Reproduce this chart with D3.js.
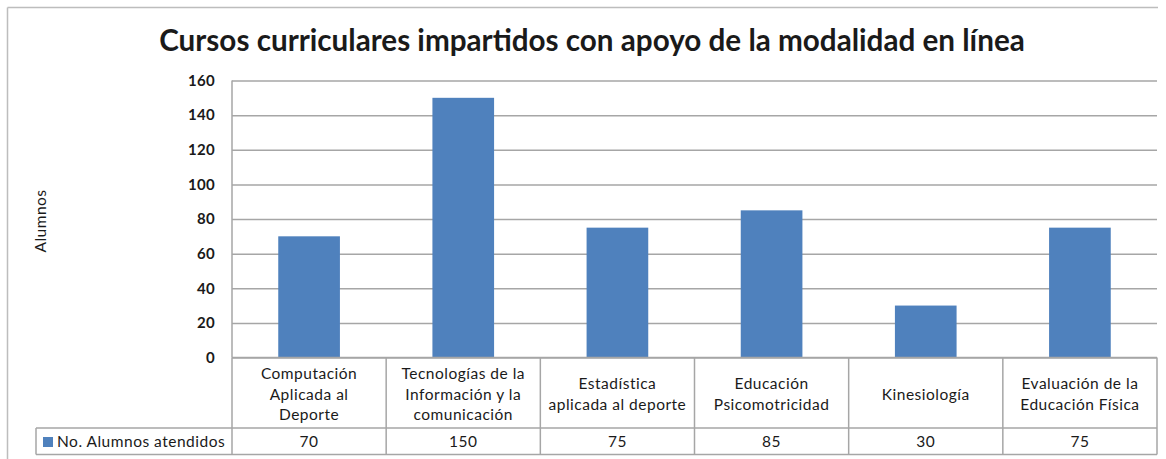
<!DOCTYPE html>
<html>
<head>
<meta charset="utf-8">
<script src="https://cdn.jsdelivr.net/npm/d3@7"></script>
<style>
  html, body { margin: 0; padding: 0; background: #fff; }
  svg { display: block; }
  text { font-family: Lato, "Open Sans", sans-serif; fill: #1a1a1a; }
</style>
</head>
<body>
<svg id="chart" width="1166" height="459"></svg>
<script>
const title = "Cursos curriculares impartidos con apoyo de la modalidad en línea";
const yAxisTitle = "Alumnos";
const seriesName = "No. Alumnos atendidos";
const categories = [
  "Computación\nAplicada al\nDeporte",
  "Tecnologías de la\nInformación y la\ncomunicación",
  "Estadística\naplicada al deporte",
  "Educación\nPsicomotricidad",
  "Kinesiología",
  "Evaluación de la\nEducación Física"
];
const values = [70, 150, 75, 85, 30, 75];
const yTicks = [0, 20, 40, 60, 80, 100, 120, 140, 160];

(function () {
const svg = d3.select("#chart");
const barColor = "#4F81BD";
const lineColor = "#A6A6A6";
const fs = 15.5, ls = 0.5;

const pLeft = 232, pRight = 1157, pTop = 80.5, pBottom = 357.5;
const tableRow1 = 428, tableBottom = 454.5, legendLeft = 36;

// outer frame
svg.append("line").attr("x1", 7.5).attr("x2", 7.5).attr("y1", 7.5).attr("y2", 459)
  .attr("stroke", "#BDBDBD").attr("stroke-width", 1.5);
svg.append("line").attr("x1", 7.5).attr("x2", 1158).attr("y1", 7.5).attr("y2", 7.5)
  .attr("stroke", "#BDBDBD").attr("stroke-width", 1.5);

// title
const t = svg.append("text").attr("x", 592).attr("y", 51)
  .attr("text-anchor", "middle").attr("font-weight", 700).attr("font-size", 26)
  .text(title);
const tw = t.node().getComputedTextLength();
t.attr("font-size", 26 * 866 / tw);

const x = d3.scaleBand().domain(d3.range(categories.length)).range([pLeft, pRight])
  .paddingInner(0.6).paddingOuter(0.3);
const xCol = d3.scaleBand().domain(d3.range(categories.length)).range([pLeft, pRight]).padding(0);
const y = d3.scaleLinear().domain([0, 160]).range([pBottom, pTop]);

// gridlines via axis
const yAxis = d3.axisLeft(y).tickValues(yTicks).tickSize(-(pRight - pLeft)).tickPadding(17);
const g = svg.append("g").attr("transform", `translate(${pLeft},0)`).call(yAxis);
g.select(".domain").remove();
g.selectAll(".tick line").attr("stroke", lineColor).attr("stroke-width", 1.5);
g.selectAll(".tick text").attr("font-size", 15).attr("font-family", "Lato, sans-serif")
  .attr("fill", "#1a1a1a").attr("font-weight", 700).attr("letter-spacing", 0.3);
svg.append("line").attr("x1", pLeft).attr("x2", pLeft).attr("y1", pTop).attr("y2", pBottom)
  .attr("stroke", lineColor).attr("stroke-width", 1.5);

// bars
svg.append("g").selectAll("rect").data(values).join("rect")
  .attr("x", (d, i) => x(i)).attr("width", x.bandwidth())
  .attr("y", d => y(d)).attr("height", d => y(0) - y(d))
  .attr("fill", barColor);

// axis title
svg.append("text").attr("transform", "translate(46,221) rotate(-90)")
  .attr("text-anchor", "middle").attr("font-size", fs).attr("letter-spacing", ls)
  .text(yAxisTitle);

// data table
const tg = svg.append("g");
const tl = (x1, y1, x2, y2) => tg.append("line").attr("x1", x1).attr("y1", y1)
  .attr("x2", x2).attr("y2", y2).attr("stroke", lineColor).attr("stroke-width", 1.5);
tl(pLeft, pBottom, pRight, pBottom);
tl(legendLeft, tableRow1, pRight, tableRow1);
tl(legendLeft, tableBottom, pRight, tableBottom);
tl(legendLeft, tableRow1, legendLeft, tableBottom);
categories.forEach((c, i) => {
  tl(xCol(i), pBottom, xCol(i), tableBottom);
});
tl(pRight, pBottom, pRight, tableBottom);

// category labels
categories.forEach((c, i) => {
  const lines = c.split("\n");
  const cx = xCol(i) + xCol.bandwidth() / 2;
  const mid = 399.5;
  const lh = 20.5;
  const txt = tg.append("text").attr("text-anchor", "middle").attr("font-size", fs)
    .attr("letter-spacing", ls);
  lines.forEach((ln, k) => {
    txt.append("tspan").attr("x", cx)
      .attr("y", mid + (k - (lines.length - 1) / 2) * lh).text(ln);
  });
});

// values row
values.forEach((v, i) => {
  tg.append("text").attr("x", xCol(i) + xCol.bandwidth() / 2)
    .attr("y", 446.5)
    .attr("text-anchor", "middle").attr("font-size", fs).attr("letter-spacing", ls).text(v);
});

// legend key
tg.append("rect").attr("x", 43).attr("y", 437).attr("width", 10).attr("height", 10).attr("fill", barColor);
tg.append("text").attr("x", 57).attr("y", 446.5)
  .attr("font-size", fs).attr("letter-spacing", ls).text(seriesName);
})();
</script>
</body>
</html>
